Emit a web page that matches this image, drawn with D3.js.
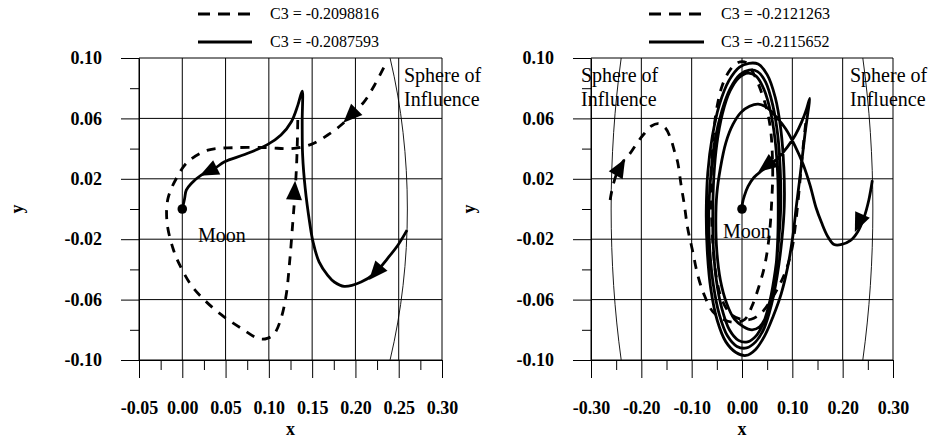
<!DOCTYPE html>
<html>
<head>
<meta charset="utf-8">
<script src="https://cdn.jsdelivr.net/npm/d3@7"></script>
<style>
  body { margin: 0; background: #fff; }
  svg { display: block; }
  svg text { font-family: "Liberation Serif", "DejaVu Serif", serif; fill: #000; }
</style>
</head>
<body>
<svg id="chart" width="932" height="439"></svg>
<script>
// ---- axis ticks ----
const yTicks = [0.10, 0.06, 0.02, -0.02, -0.06, -0.10];
const yMinorTicks = [0.08, 0.04, 0.00, -0.04, -0.08];
const leftXTicks = [-0.05, 0.00, 0.05, 0.10, 0.15, 0.20, 0.25, 0.30];
const leftXMinorTicks = [-0.025, 0.025, 0.075, 0.125, 0.175, 0.225, 0.275];
const rightXTicks = [-0.30, -0.20, -0.10, 0.00, 0.10, 0.20, 0.30];
const rightXMinorTicks = [-0.25, -0.15, -0.05, 0.05, 0.15, 0.25];

// ---- legend labels ----
const leftLegend = ["C3 = -0.2098816", "C3 = -0.2087593"];   // dashed, solid
const rightLegend = ["C3 = -0.2121263", "C3 = -0.2115652"];  // dashed, solid

// ---- Moon and its sphere of influence ----
const moonPos = [0, 0];
const sphereRadius = 0.26;

// ---- trajectories (x, y) ----
const leftDashed = [
  [0.2327, 0.0936], [0.222, 0.082], [0.210, 0.071], [0.195, 0.0622], [0.1835, 0.0556],
  [0.168, 0.049], [0.149, 0.0428], [0.126, 0.040], [0.0988, 0.0406], [0.060, 0.0406],
  [0.0296, 0.039], [0.0065, 0.0313], [-0.0069, 0.0202], [-0.0165, 0.007], [-0.0177, -0.0085],
  [-0.0108, -0.026], [-0.003, -0.037], [0.0104, -0.0505], [0.0258, -0.0604], [0.045, -0.070],
  [0.068, -0.079], [0.089, -0.086], [0.099, -0.0855], [0.1065, -0.0825], [0.114, -0.0726],
  [0.120, -0.057], [0.124, -0.035], [0.1277, -0.0085], [0.130, 0.0092], [0.132, 0.029],
  [0.133, 0.0467], [0.1335, 0.062]
];
const leftSolid = [
  [0.2596, -0.014], [0.249, -0.024], [0.237, -0.0328], [0.222, -0.0428], [0.2065, -0.0483],
  [0.187, -0.0512], [0.176, -0.0485], [0.168, -0.0439], [0.158, -0.035], [0.151, -0.0218],
  [0.147, -0.0085], [0.142, 0.0136], [0.139, 0.0357], [0.1385, 0.058], [0.1385, 0.078],
  [0.1335, 0.0688], [0.126, 0.0578], [0.114, 0.049], [0.0988, 0.0428], [0.072, 0.0361],
  [0.0488, 0.0313], [0.0373, 0.0268], [0.0219, 0.0224], [0.0104, 0.0169], [0.0046, 0.0125],
  [0.0027, 0.007], [0.0, 0.0]
];
const rightDashed = [
  [-0.262, 0.006], [-0.256, 0.016], [-0.247, 0.025], [-0.235, 0.032], [-0.222, 0.037],
  [-0.208, 0.044], [-0.194, 0.050], [-0.180, 0.055], [-0.166, 0.0565], [-0.153, 0.054],
  [-0.142, 0.047], [-0.134, 0.038], [-0.128, 0.0313], [-0.121, 0.0159], [-0.1145, 0.0026],
  [-0.108, -0.0126], [-0.098, -0.028], [-0.088, -0.0437], [-0.075, -0.057], [-0.058, -0.068],
  [-0.035, -0.0735], [-0.012, -0.075], [0.006, -0.073], [0.019, -0.065], [0.033, -0.052],
  [0.044, -0.039], [0.051, -0.026], [0.056, -0.011], [0.059, 0.005], [0.061, 0.022],
  [0.060, 0.038], [0.057, 0.052], [0.050, 0.065], [0.039, 0.077], [0.024, 0.089],
  [0.008, 0.097], [-0.008, 0.097], [-0.024, 0.092], [-0.039, 0.082], [-0.050, 0.067],
  [-0.057, 0.048], [-0.061, 0.025], [-0.061, 0.002], [-0.058, -0.022], [-0.052, -0.043],
  [-0.041, -0.059], [-0.024, -0.069], [-0.003, -0.073], [0.018, -0.073], [0.038, -0.069],
  [0.058, -0.060], [0.075, -0.050], [0.088, -0.040], [0.099, -0.027], [0.106, -0.011],
  [0.111, 0.004], [0.115, 0.018], [0.119, 0.033], [0.123, 0.046], [0.127, 0.058]
];
const rightSolid = [
  // inbound from the sphere of influence
  [0.259, 0.019], [0.252, 0.006], [0.242, -0.006], [0.230, -0.015], [0.215, -0.021],
  [0.198, -0.0235], [0.183, -0.0235], [0.170, -0.018], [0.158, -0.009], [0.147, 0.001],
  [0.135, 0.016], [0.121, 0.030], [0.105, 0.042], [0.087, 0.053], [0.068, 0.061],
  [0.050, 0.067], [0.032, 0.0695],
  // first revolution
  [0.015, 0.068], [-0.002, 0.064], [-0.018, 0.056], [-0.032, 0.044], [-0.043, 0.027],
  [-0.050, 0.010], [-0.052, -0.008], [-0.050, -0.028], [-0.043, -0.047], [-0.031, -0.062],
  [-0.015, -0.073], [0.003, -0.078], [0.020, -0.080], [0.035, -0.078], [0.048, -0.071],
  [0.059, -0.058], [0.067, -0.040], [0.071, -0.020], [0.072, 0.000], [0.071, 0.022],
  [0.066, 0.045], [0.057, 0.064], [0.044, 0.079], [0.028, 0.088], [0.012, 0.090],
  // second revolution
  [-0.006, 0.087], [-0.024, 0.078], [-0.039, 0.063], [-0.050, 0.043], [-0.056, 0.021],
  [-0.058, -0.002], [-0.057, -0.025], [-0.051, -0.047], [-0.040, -0.066], [-0.025, -0.080],
  [-0.007, -0.087], [0.011, -0.088], [0.028, -0.084], [0.043, -0.075], [0.056, -0.060],
  [0.066, -0.041], [0.073, -0.020], [0.077, 0.002], [0.076, 0.026], [0.071, 0.049],
  [0.061, 0.069], [0.047, 0.084], [0.031, 0.091], [0.014, 0.092],
  // third revolution
  [-0.004, 0.089], [-0.023, 0.080], [-0.040, 0.065], [-0.054, 0.045], [-0.062, 0.022],
  [-0.066, -0.002], [-0.064, -0.027], [-0.057, -0.050], [-0.045, -0.070], [-0.029, -0.084],
  [-0.010, -0.091], [0.009, -0.092], [0.027, -0.088], [0.044, -0.079], [0.058, -0.064],
  [0.070, -0.044], [0.079, -0.021], [0.084, 0.002], [0.083, 0.028], [0.077, 0.053],
  [0.066, 0.074], [0.050, 0.089], [0.032, 0.096], [0.014, 0.0965],
  // last revolution, out to the turning point
  [-0.005, 0.094], [-0.026, 0.085], [-0.045, 0.069], [-0.059, 0.048], [-0.068, 0.024],
  [-0.071, -0.002], [-0.069, -0.028], [-0.062, -0.053], [-0.049, -0.074], [-0.032, -0.088],
  [-0.012, -0.095], [0.008, -0.097], [0.027, -0.093], [0.045, -0.084], [0.062, -0.071],
  [0.078, -0.056], [0.091, -0.038], [0.101, -0.018], [0.108, 0.002], [0.114, 0.018],
  [0.120, 0.035], [0.126, 0.052], [0.131, 0.064], [0.1346, 0.0733],
  // descent to the Moon
  [0.128, 0.066], [0.119, 0.058], [0.106, 0.049], [0.090, 0.041], [0.072, 0.034],
  [0.054, 0.029], [0.038, 0.025], [0.024, 0.021], [0.012, 0.015], [0.005, 0.009],
  [0.001, 0.004], [0.0, 0.0]
];

// arrowhead locations along each trajectory
const leftDashedArrows = [[0.195, 0.0622], [0.1296, 0.0114]];
const leftSolidArrows = [[0.224, -0.0415], [0.0315, 0.0252]];
const rightDashedArrows = [[-0.243, 0.027]];
const rightSolidArrows = [[0.233, -0.0085], [0.050, 0.029]];

// ---- drawing ----
const SERIF = "'Liberation Serif', 'DejaVu Serif', serif";
const svg = d3.select("#chart");
const plotTop = 58, plotBottom = 360;
const fmt = d => (Math.abs(d) < 1e-9 ? 0 : d).toFixed(2);

function drawPanel(cfg) {
  const g = svg.append("g");
  const x = d3.scaleLinear().domain(cfg.xDomain).range([cfg.x0, cfg.x1]);
  const y = d3.scaleLinear().domain([-0.10, 0.10]).range([plotBottom, plotTop]);

  const clipId = "clip-" + cfg.id;
  svg.append("defs").append("clipPath").attr("id", clipId)
    .append("rect").attr("x", cfg.x0).attr("y", plotTop)
    .attr("width", cfg.x1 - cfg.x0).attr("height", plotBottom - plotTop);

  // grid
  g.append("g").selectAll("line").data(cfg.xTicks).join("line")
    .attr("x1", d => x(d)).attr("x2", d => x(d))
    .attr("y1", plotTop).attr("y2", plotBottom)
    .attr("stroke", "#000").attr("stroke-width", 1);
  g.append("g").selectAll("line").data(yTicks).join("line")
    .attr("x1", cfg.x0).attr("x2", cfg.x1)
    .attr("y1", d => y(d)).attr("y2", d => y(d))
    .attr("stroke", "#000").attr("stroke-width", 1);

  // y axis
  const yAxis = g.append("g").attr("transform", `translate(${cfg.x0},0)`)
    .call(d3.axisLeft(y).tickValues(yTicks).tickSize(18).tickSizeOuter(0)
      .tickPadding(19).tickFormat(fmt));
  g.append("g").attr("transform", `translate(${cfg.x0},0)`)
    .call(d3.axisLeft(y).tickValues(yMinorTicks).tickSize(9).tickFormat(""))
    .call(a => a.select(".domain").remove());

  // x axis
  const xAxis = g.append("g").attr("transform", `translate(0,${plotBottom})`)
    .call(d3.axisBottom(x).tickValues(cfg.xTicks).tickSize(18).tickSizeOuter(0)
      .tickPadding(23).tickFormat(fmt));
  g.append("g").attr("transform", `translate(0,${plotBottom})`)
    .call(d3.axisBottom(x).tickValues(cfg.xMinor).tickSize(10).tickFormat(""))
    .call(a => a.select(".domain").remove());

  [yAxis, xAxis].forEach(a => {
    a.attr("font-family", SERIF).attr("font-size", 18);
    a.selectAll("text").attr("font-size", 18).attr("font-weight", "bold");
  });
  g.selectAll(".tick line, .domain").attr("stroke", "#000");

  // axis titles
  g.append("text").attr("x", (cfg.x0 + cfg.x1) / 2).attr("y", 435)
    .attr("text-anchor", "middle").attr("font-size", 18).attr("font-weight", "bold").text("x");
  g.append("text").attr("transform", `translate(${cfg.yTitleX},${(plotTop + plotBottom) / 2}) rotate(-90)`)
    .attr("text-anchor", "middle").attr("dy", "0.3em")
    .attr("font-size", 18).attr("font-weight", "bold").text("y");

  // sphere of influence
  g.append("ellipse").attr("clip-path", `url(#${clipId})`)
    .attr("cx", x(moonPos[0])).attr("cy", y(moonPos[1]))
    .attr("rx", x(sphereRadius) - x(0)).attr("ry", y(0) - y(sphereRadius))
    .attr("fill", "none").attr("stroke", "#000").attr("stroke-width", 0.9);

  // trajectories
  const line = d3.line().x(d => x(d[0])).y(d => y(d[1])).curve(d3.curveCatmullRom.alpha(0.5));
  g.append("path").datum(cfg.dashed).attr("d", line)
    .attr("fill", "none").attr("stroke", "#000").attr("stroke-width", 2.8)
    .attr("stroke-dasharray", "9,8");
  g.append("path").datum(cfg.solid).attr("d", line)
    .attr("fill", "none").attr("stroke", "#000").attr("stroke-width", 2.8)
    .attr("stroke-linejoin", "round");

  // arrowheads, oriented along the nearest trajectory segment
  function arrows(series, spots) {
    spots.forEach(p => {
      let best = 0, bestD = Infinity;
      for (let i = 0; i < series.length - 1; i++) {
        const mx = (x(series[i][0]) + x(series[i + 1][0])) / 2;
        const my = (y(series[i][1]) + y(series[i + 1][1])) / 2;
        const d = (mx - x(p[0])) ** 2 + (my - y(p[1])) ** 2;
        if (d < bestD) { bestD = d; best = i; }
      }
      let dx = x(series[best + 1][0]) - x(series[best][0]);
      let dy = y(series[best + 1][1]) - y(series[best][1]);
      const len = Math.hypot(dx, dy); dx /= len; dy /= len;
      const cx = x(p[0]), cy = y(p[1]);
      const tip = [cx + dx * 11, cy + dy * 11];
      const bx = cx - dx * 8, by = cy - dy * 8;
      const pts = [tip, [bx - dy * 8, by + dx * 8], [bx + dy * 8, by - dx * 8]];
      g.append("path").attr("d", "M" + pts.map(q => q.join(",")).join("L") + "Z").attr("fill", "#000");
    });
  }
  arrows(cfg.dashed, cfg.dashedArrows);
  arrows(cfg.solid, cfg.solidArrows);

  // Moon
  g.append("circle").attr("cx", x(moonPos[0])).attr("cy", y(moonPos[1])).attr("r", 4.8).attr("fill", "#000");
  g.append("text").attr("x", cfg.moonLabel[0]).attr("y", cfg.moonLabel[1])
    .attr("font-size", 20).text("Moon");

  // sphere labels
  cfg.sphereLabels.forEach(([lx, ly]) => {
    const t = g.append("text").attr("x", lx).attr("y", ly).attr("font-size", 20);
    t.append("tspan").attr("x", lx).text("Sphere of");
    t.append("tspan").attr("x", lx).attr("dy", 24).text("Influence");
  });

  // legend
  const lg = g.append("g");
  [[cfg.legend[0], "9,8", 14], [cfg.legend[1], null, 42]].forEach(([label, dash, ly]) => {
    lg.append("line").attr("x1", cfg.legendX[0]).attr("x2", cfg.legendX[1])
      .attr("y1", ly).attr("y2", ly).attr("stroke", "#000").attr("stroke-width", 3)
      .attr("stroke-dasharray", dash ? "12,8" : null);
    lg.append("text").attr("x", cfg.legendX[2]).attr("y", ly + 5).attr("font-size", 16).text(label);
  });

  g.selectAll("text").style("font-family", SERIF);
}

drawPanel({
  id: "left", x0: 139, x1: 442, xDomain: [-0.05, 0.30],
  xTicks: leftXTicks, xMinor: leftXMinorTicks, yTitleX: 18,
  dashed: leftDashed, solid: leftSolid,
  dashedArrows: leftDashedArrows, solidArrows: leftSolidArrows,
  moonLabel: [198, 242], sphereLabels: [[404, 82]],
  legend: leftLegend, legendX: [198, 252, 270]
});
drawPanel({
  id: "right", x0: 591, x1: 893, xDomain: [-0.30, 0.30],
  xTicks: rightXTicks, xMinor: rightXMinorTicks, yTitleX: 470,
  dashed: rightDashed, solid: rightSolid,
  dashedArrows: rightDashedArrows, solidArrows: rightSolidArrows,
  moonLabel: [723, 238], sphereLabels: [[581, 82], [850, 82]],
  legend: rightLegend, legendX: [649, 704, 721]
});
</script>
</body>
</html>
